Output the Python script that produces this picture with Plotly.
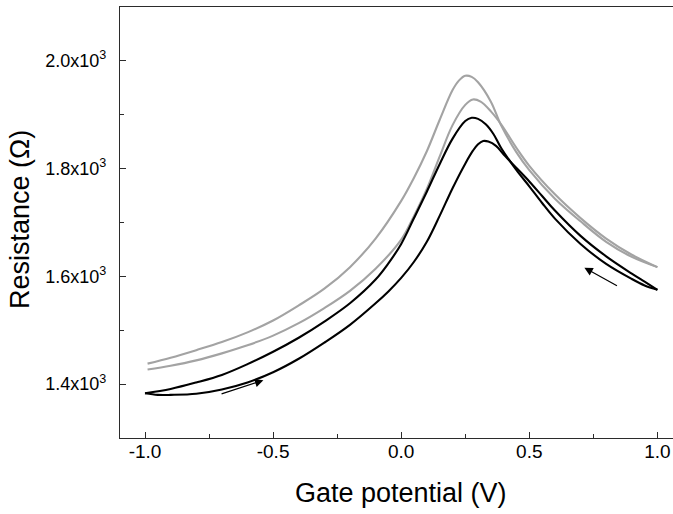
import plotly.graph_objects as go

# Black loop: forward sweep (-1 -> 1)
xb_fwd = [-1.0, -0.95, -0.9, -0.8, -0.7, -0.6, -0.5, -0.4, -0.3, -0.2, -0.1, -0.05, 0.0, 0.05, 0.1,
          0.15, 0.2, 0.25, 0.28, 0.3, 0.32, 0.34, 0.37, 0.4, 0.45, 0.5, 0.55, 0.6, 0.7, 0.8, 0.9, 0.95, 1.0]
yb_fwd = [1383, 1380, 1380, 1382, 1390, 1403, 1422, 1447, 1477, 1510, 1550, 1572, 1597, 1627, 1664,
          1712, 1763, 1809, 1833, 1845, 1851, 1850, 1842, 1826, 1801, 1776, 1749, 1722, 1675, 1637, 1605, 1590, 1575]

# Black loop: return sweep (1 -> -1), listed by increasing potential
xb_ret = [-1.0, -0.9, -0.8, -0.7, -0.6, -0.5, -0.4, -0.3, -0.2, -0.1, -0.05, 0.0, 0.05, 0.1, 0.15,
          0.2, 0.25, 0.275, 0.3, 0.33, 0.36, 0.39, 0.45, 0.5, 0.55, 0.6, 0.7, 0.8, 0.9, 0.95, 1.0]
yb_ret = [1383, 1391, 1403, 1417, 1437, 1460, 1486, 1516, 1550, 1594, 1624, 1660, 1708, 1757, 1808,
          1855, 1888, 1894, 1892, 1882, 1864, 1838, 1797, 1767, 1736, 1707, 1660, 1623, 1595, 1583, 1575]

# Grey loop: curve with higher peak
xg_hi = [-0.99, -0.9, -0.8, -0.7, -0.6, -0.5, -0.4, -0.3, -0.2, -0.1, 0.0, 0.05, 0.1, 0.15, 0.2,
         0.225, 0.25, 0.275, 0.3, 0.35, 0.39, 0.45, 0.5, 0.6, 0.7, 0.8, 0.9, 1.0]
yg_hi = [1438, 1449, 1463, 1478, 1496, 1518, 1546, 1577, 1617, 1670, 1740, 1783, 1832, 1890, 1945,
         1963, 1972, 1970, 1960, 1924, 1880, 1830, 1797, 1744, 1702, 1664, 1636, 1617]

# Grey loop: curve with lower peak
xg_lo = [-0.99, -0.9, -0.8, -0.7, -0.6, -0.5, -0.4, -0.3, -0.2, -0.1, 0.0, 0.05, 0.1, 0.15, 0.2,
         0.25, 0.28, 0.31, 0.35, 0.39, 0.45, 0.5, 0.6, 0.7, 0.8, 0.9, 1.0]
yg_lo = [1427, 1434, 1444, 1457, 1472, 1490, 1513, 1541, 1573, 1614, 1668, 1712, 1762, 1822, 1880,
         1918, 1928, 1924, 1906, 1882, 1838, 1805, 1752, 1708, 1670, 1640, 1617]

# Sweep-direction arrows: (tail x, tail y, head x, head y)
arrow_fwd = (-0.707, 1381, -0.538, 1407)
arrow_ret = (0.848, 1581, 0.715, 1616)

x_tickvals = [-1.0, -0.5, 0.0, 0.5, 1.0]
x_ticktext = ["-1.0", "-0.5", "0.0", "0.5", "1.0"]
y_tickvals = [1400, 1600, 1800, 2000]
y_ticktext = ["1.4x10<sup>3</sup>", "1.6x10<sup>3</sup>", "1.8x10<sup>3</sup>", "2.0x10<sup>3</sup>"]
x_title = "Gate potential (V)"
y_title = "Resistance (Ω)"

GREY = "#a3a3a3"
BLACK = "#000000"
AXC = "#2b2b2b"
FONT = "Liberation Sans, Arial, sans-serif"

fig = go.Figure()
for xs, ys, c in [(xg_hi, yg_hi, GREY), (xg_lo, yg_lo, GREY), (xb_ret, yb_ret, BLACK), (xb_fwd, yb_fwd, BLACK)]:
    fig.add_trace(go.Scatter(x=xs, y=ys, mode="lines",
                             line=dict(color=c, width=2.1, shape="spline", smoothing=1.0),
                             showlegend=False, hoverinfo="skip"))

for tx, ty, hx, hy in [arrow_fwd, arrow_ret]:
    fig.add_annotation(x=hx, y=hy, ax=tx, ay=ty, xref="x", yref="y", axref="x", ayref="y",
                       text="", showarrow=True, arrowhead=2, arrowsize=1.4, arrowwidth=1.2,
                       arrowcolor=BLACK, standoff=0, startstandoff=0)

# axis titles
fig.add_annotation(text=x_title, xref="paper", yref="paper", x=0.5081, y=-0.1276,
                   xanchor="center", yanchor="middle", showarrow=False,
                   font=dict(size=27, family=FONT, color="black"))
fig.add_annotation(text=y_title, xref="paper", yref="paper", x=-0.1808, y=0.5058,
                   xanchor="center", yanchor="middle", showarrow=False, textangle=-90,
                   font=dict(size=27, family=FONT, color="black"))

fig.update_layout(
    width=673, height=514,
    margin=dict(l=120, r=0, t=7, b=76, autoexpand=False),
    paper_bgcolor="white", plot_bgcolor="white",
    font=dict(family=FONT, color="black"),
)
fig.update_xaxes(
    range=[-1.0976, 1.0609], showgrid=False, zeroline=False,
    showline=True, linecolor=AXC, linewidth=1.3, mirror=True,
    ticks="inside", ticklen=6, tickwidth=1.3, tickcolor=AXC,
    tickvals=x_tickvals, ticktext=x_ticktext, tickfont=dict(size=19, family=FONT),
    ticklabelstandoff=-4,
    minor=dict(ticks="inside", ticklen=4, tickwidth=1.3, tickcolor=AXC, tickvals=[-0.75, -0.25, 0.25, 0.75]),
)
fig.update_yaxes(
    range=[1300, 2099.6], showgrid=False, zeroline=False,
    showline=True, linecolor=AXC, linewidth=1.3, mirror=False,
    ticks="inside", ticklen=6, tickwidth=1.3, tickcolor=AXC,
    tickvals=y_tickvals, ticktext=y_ticktext, tickfont=dict(size=18, family=FONT),
    ticklabelstandoff=9,
    minor=dict(ticks="inside", ticklen=4, tickwidth=1.3, tickcolor=AXC, tickvals=[1500, 1700, 1900]),
)

# remove the page's default body margin so the figure fills the window exactly
fig.write_html("out.html", config={"displayModeBar": False},
               post_script="document.body.style.margin='0';document.body.style.overflow='hidden';")
